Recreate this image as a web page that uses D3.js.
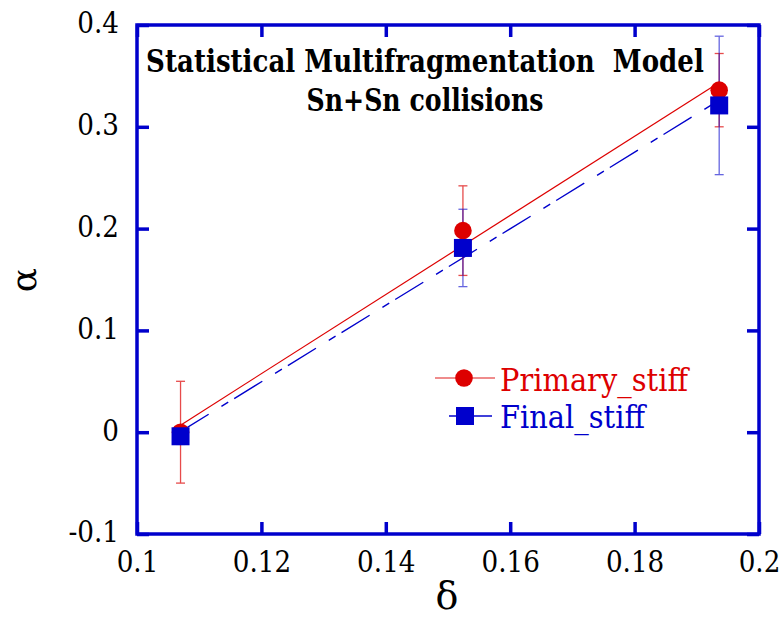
<!DOCTYPE html>
<html>
<head>
<meta charset="utf-8">
<script src="https://cdn.jsdelivr.net/npm/d3@7"></script>
<style>
  html, body { margin: 0; padding: 0; background: #fff; }
  svg { display: block; }
</style>
</head>
<body>
<svg id="chart" width="782" height="619"></svg>
<script>
// delta values of the three systems
const delta = [0.107, 0.1524, 0.1936];

// alpha from primary fragments (stiff symmetry energy) and its errors
const alphaPrimary = [0.0, 0.198, 0.336];
const errPrimary   = [0.050, 0.044, 0.036];

// alpha from final fragments (stiff symmetry energy) and its errors
const alphaFinal = [-0.004, 0.181, 0.321];
const errFinal   = [0.008, 0.038, 0.068];

// axis ticks and labels
const xTicks = [0.1, 0.12, 0.14, 0.16, 0.18, 0.2];
const xTickLabels = ["0.1", "0.12", "0.14", "0.16", "0.18", "0.2"];
const yTicks = [-0.1, 0, 0.1, 0.2, 0.3, 0.4];
const yTickLabels = ["-0.1", "0", "0.1", "0.2", "0.3", "0.4"];

const seriesNames = ["Primary_stiff", "Final_stiff"];
const titleLines = ["Statistical Multifragmentation\u00a0 Model", "Sn+Sn collisions"];

const RED = "#dd0000", BLUE = "#0000cc";
const SERIF = "DejaVu Serif";
const frame = { left: 137, top: 25, right: 759, bottom: 534 };

const svg = d3.select("#chart").attr("font-family", SERIF);
const x = d3.scaleLinear().domain([0.1, 0.2]).range([frame.left, frame.right]);
const y = d3.scaleLinear().domain([-0.1, 0.4]).range([frame.bottom, frame.top]);

// squeeze a text horizontally by factor k, keeping its anchor point in place
function squeeze(node, k) {
  const el = d3.select(node);
  const x0 = +el.attr("x") || 0;
  const t = el.attr("transform") || "";
  el.attr("x", x0 / k).attr("transform", `${t} scale(${k},1)`);
}
// narrow the wide serif face to a Times-like set width
function narrow(sel, k) { sel.each(function () { squeeze(this, k); }); }
// squeeze a text to a given width
function fitWidth(sel, w) {
  sel.each(function () { squeeze(this, w / this.getComputedTextLength()); });
}

// least-squares straight line through a series
function fit(xs, ys) {
  const mx = d3.mean(xs), my = d3.mean(ys);
  let sxy = 0, sxx = 0;
  xs.forEach((v, i) => { sxy += (v - mx) * (ys[i] - my); sxx += (v - mx) * (v - mx); });
  const b = sxy / sxx, a = my - b * mx;
  const x0 = d3.min(xs), x1 = d3.max(xs);
  return [[x0, a + b * x0], [x1, a + b * x1]];
}

const line = d3.line().x(d => x(d[0])).y(d => y(d[1]));

// axes: inward ticks on all four sides
const fmtX = d => xTickLabels[xTicks.indexOf(d)];
const fmtY = d => yTickLabels[yTicks.indexOf(d)];

const gB = svg.append("g").attr("transform", `translate(0,${frame.bottom})`)
  .call(d3.axisBottom(x).tickValues(xTicks).tickFormat(fmtX).tickSize(-12).tickPadding(16));
const gL = svg.append("g").attr("transform", `translate(${frame.left},0)`)
  .call(d3.axisLeft(y).tickValues(yTicks).tickFormat(fmtY).tickSize(-12).tickPadding(18));
const gT = svg.append("g").attr("transform", `translate(0,${frame.top})`)
  .call(d3.axisTop(x).tickValues(xTicks).tickFormat("").tickSize(-12));
const gR = svg.append("g").attr("transform", `translate(${frame.right},0)`)
  .call(d3.axisRight(y).tickValues(yTicks).tickFormat("").tickSize(-12));

[gB, gL, gT, gR].forEach(g => {
  g.attr("font-family", SERIF).attr("font-size", 30.5);
  g.select(".domain").remove();
  g.selectAll(".tick line").attr("stroke", BLUE).attr("stroke-width", 3.5);
  g.selectAll(".tick text").attr("fill", "#000");
});
gL.selectAll(".tick text").attr("dy", "0.26em");
narrow(gB.selectAll(".tick text"), 0.86);
narrow(gL.selectAll(".tick text"), 0.86);

// frame
svg.append("rect")
  .attr("x", frame.left).attr("y", frame.top)
  .attr("width", frame.right - frame.left).attr("height", frame.bottom - frame.top)
  .attr("fill", "none").attr("stroke", BLUE).attr("stroke-width", 3.5);

// fit lines
svg.append("path").datum(fit(delta, alphaPrimary))
  .attr("d", line).attr("fill", "none").attr("stroke", RED).attr("stroke-width", 1.2);
svg.append("path").datum(fit(delta, alphaFinal))
  .attr("d", line).attr("fill", "none").attr("stroke", BLUE).attr("stroke-width", 1.4)
  .attr("stroke-dasharray", "33,15,8,7");

// error bars
function errorBars(vals, errs, color, opacity) {
  const g = svg.append("g").attr("stroke", color).attr("stroke-width", 1.3).attr("opacity", opacity);
  delta.forEach((d, i) => {
    const cx = x(d), y0 = y(vals[i] - errs[i]), y1 = y(vals[i] + errs[i]);
    g.append("line").attr("x1", cx).attr("x2", cx).attr("y1", y0).attr("y2", y1);
    g.append("line").attr("x1", cx - 4.5).attr("x2", cx + 4.5).attr("y1", y0).attr("y2", y0);
    g.append("line").attr("x1", cx - 4.5).attr("x2", cx + 4.5).attr("y1", y1).attr("y2", y1);
  });
}
errorBars(alphaPrimary, errPrimary, RED, 0.7);
errorBars(alphaFinal, errFinal, BLUE, 0.6);

// markers
svg.append("g").selectAll("circle").data(delta).join("circle")
  .attr("cx", d => x(d)).attr("cy", (d, i) => y(alphaPrimary[i]))
  .attr("r", 8.8).attr("fill", RED);
svg.append("g").selectAll("rect").data(delta).join("rect")
  .attr("x", d => x(d) - 9).attr("y", (d, i) => y(alphaFinal[i]) - 9)
  .attr("width", 18).attr("height", 18).attr("fill", BLUE);

// title
svg.append("text").attr("x", 425).attr("y", 72).attr("text-anchor", "middle")
  .attr("font-size", 32).attr("font-weight", "bold").text(titleLines[0])
  .call(fitWidth, 558);
svg.append("text").attr("x", 425).attr("y", 111).attr("text-anchor", "middle")
  .attr("font-size", 32).attr("font-weight", "bold").text(titleLines[1])
  .call(fitWidth, 237);

// legend
const leg = svg.append("g");
leg.append("line").attr("x1", 435).attr("x2", 495).attr("y1", 378).attr("y2", 378)
  .attr("stroke", RED).attr("stroke-width", 1.3).attr("opacity", 0.6);
leg.append("circle").attr("cx", 464).attr("cy", 378).attr("r", 8.8).attr("fill", RED);
leg.append("text").attr("x", 500).attr("y", 391).attr("font-size", 31.5).attr("fill", RED)
  .text(seriesNames[0]).call(fitWidth, 188);
leg.append("line").attr("x1", 449).attr("x2", 492).attr("y1", 416).attr("y2", 416)
  .attr("stroke", BLUE).attr("stroke-width", 1.3);
leg.append("rect").attr("x", 456).attr("y", 407).attr("width", 18).attr("height", 18).attr("fill", BLUE);
leg.append("text").attr("x", 500).attr("y", 428).attr("font-size", 31.5).attr("fill", BLUE)
  .text(seriesNames[1]).call(fitWidth, 145);

// axis titles
svg.append("text").attr("x", 447).attr("y", 609).attr("text-anchor", "middle")
  .attr("font-size", 38).text("δ");
svg.append("text").attr("transform", "translate(36,280) rotate(-90)").attr("text-anchor", "middle")
  .attr("font-size", 36).text("α");
</script>
</body>
</html>
